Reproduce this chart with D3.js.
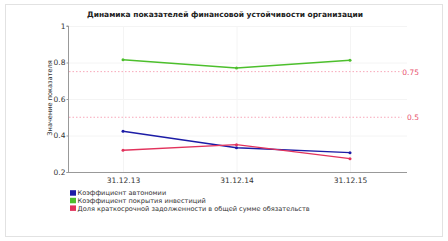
<!DOCTYPE html>
<html><head><meta charset="utf-8">
<script src="https://cdn.jsdelivr.net/npm/d3@7"></script>
<style>body{margin:0;background:#fff}svg{display:block}text{font-family:"DejaVu Sans",Verdana,sans-serif}</style>
</head><body><svg id="c" width="448" height="241"></svg>
<script>
const categories = ["31.12.13", "31.12.14", "31.12.15"];
const seriesNames = ["Коэффициент автономии", "Коэффициент покрытия инвестиций", "Доля краткосрочной задолженности в общей сумме обязательств"];
const autonomy = [0.423, 0.333, 0.306];
const coverage = [0.815, 0.77, 0.812];
const shortDebt = [0.319, 0.35, 0.273];
const seriesColors = ["#1c1ca6", "#4cbf2c", "#e2325c"];
const yTicks = [0.2, 0.4, 0.6, 0.8, 1];
const refValues = [0.75, 0.5];
const title = "Динамика показателей финансовой устойчивости организации";
const yTitle = "Значение показателя";

const svg = d3.select("#c");
svg.append("rect").attr("x",5.5).attr("y",4.5).attr("width",437).attr("height",232).attr("fill","#fff").attr("stroke","#e2e2e2");

const x = d3.scalePoint().domain(categories).range([123, 350]);
const y = d3.scaleLinear().domain([0.2, 1]).range([172, 26]);
const L = 68, R = 407;

// grid
svg.append("g").selectAll("line").data(yTicks).join("line")
  .attr("x1",L).attr("x2",R).attr("y1",d=>y(d)+0.5).attr("y2",d=>y(d)+0.5).attr("stroke","#f4f4f4");
svg.append("g").selectAll("line").data(categories).join("line")
  .attr("x1",d=>x(d)+0.5).attr("x2",d=>x(d)+0.5).attr("y1",26).attr("y2",172).attr("stroke","#f4f4f4");

svg.append("text").attr("x",225).attr("y",17).attr("text-anchor","middle").attr("font-size",7.5).attr("font-weight","bold").attr("fill","#222").text(title);

// axes
const ya = svg.append("g").attr("transform",`translate(${L+0.5},0)`).call(d3.axisLeft(y).tickValues(yTicks).tickSize(2).tickFormat(d=>d3.format("")(d)));
ya.select(".domain").attr("stroke","#999").attr("d",`M-2,26H0V172.5H-2`);
ya.selectAll(".tick line").attr("stroke","#999");
ya.selectAll(".tick text").attr("font-size",7.5).attr("fill","#333").attr("x",-3);
const xa = svg.append("g").attr("transform",`translate(0,172.5)`).call(d3.axisBottom(x).tickSize(0).tickPadding(5));
xa.select(".domain").attr("stroke","#999").attr("d",`M${L},0H${R}`);
xa.selectAll(".tick text").attr("font-size",7.5).attr("fill","#333");

svg.append("text").attr("transform","translate(52,98) rotate(-90)").attr("text-anchor","middle").attr("font-size",6.6).attr("fill","#333").text(yTitle);

// reference lines
refValues.forEach(v=>{
  svg.append("line").attr("x1",L+1).attr("x2",402).attr("y1",y(v)).attr("y2",y(v)).attr("stroke","#f7a8ba").attr("stroke-dasharray","1.5,2").attr("stroke-width",1);
  svg.append("text").attr("x",419).attr("y",y(v)+3).attr("text-anchor","end").attr("font-size",7.5).attr("fill","#e8506e").text(d3.format("")(v));
});

const data = [autonomy, coverage, shortDebt];
const line = d3.line().x((d,i)=>x(categories[i])).y(d=>y(d));
data.forEach((s,k)=>{
  svg.append("path").attr("d",line(s)).attr("fill","none").attr("stroke",seriesColors[k]).attr("stroke-width",1.4);
  svg.append("g").selectAll("circle").data(s).join("circle").attr("cx",(d,i)=>x(categories[i])).attr("cy",d=>y(d)).attr("r",1.5).attr("fill",seriesColors[k]);
});

// legend
const lg = svg.append("g");
seriesNames.forEach((n,k)=>{
  const yy = 193 + k*7.6;
  lg.append("rect").attr("x",70).attr("y",yy-2.8).attr("width",6).attr("height",5.5).attr("fill",seriesColors[k]);
  lg.append("text").attr("x",77.5).attr("y",yy+2.4).attr("font-size",6.6).attr("fill","#333").text(n);
});
</script></body></html>
